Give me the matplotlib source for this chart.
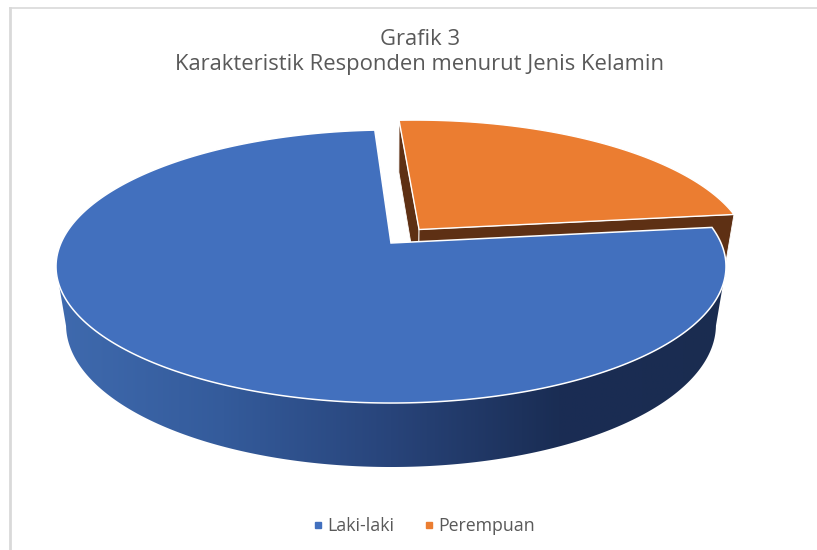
import numpy as np
import matplotlib
matplotlib.use('Agg')
import matplotlib.pyplot as plt
from matplotlib.colors import LinearSegmentedColormap
from matplotlib.lines import Line2D
from matplotlib.patches import Polygon

plt.rcParams['font.family'] = ['Open Sans', 'DejaVu Sans']

title = 'Grafik 3\nKarakteristik Responden menurut Jenis Kelamin'
categories = ['Laki-laki', 'Perempuan']
values = [76, 24]
colors = ['#4270BE', '#EB7D31']
side_color = '#5E3014'
side_stops = ['#3F6AAE', '#345B9B', '#28447A', '#1A2D54', '#1A2C50']

# pie geometry in pixels
cx, cy = 391, 243
rx, ry = 330, 132.5
persp = 0.172
depth = 59.7
depth_persp = 0.03
explode = 0.135
start = -3.3  # degrees clockwise from 12 o'clock, Perempuan starts here


def project(x, y, low=False):
    w = 1 + persp * y
    if low:
        w = w + depth_persp
        return cx + rx * x / w, cy + (depth - ry * y) / w
    return cx + rx * x / w, cy - ry * y / w


def wedge(a0, a1, shift=(0, 0)):
    t = np.radians(np.linspace(a0, a1, 300))
    x = np.r_[0, np.sin(t)] + shift[0]
    y = np.r_[0, np.cos(t)] + shift[1]
    return x, y


fig = plt.figure(figsize=(8.17, 5.5), dpi=100)
ax = fig.add_axes([0, 0, 1, 1])

sweep = 360 * np.array(values) / sum(values)
orange0, orange1 = start, start + sweep[1]
blue0, blue1 = orange1, orange1 + sweep[0]
mid = np.radians((orange0 + orange1) / 2)
shift = (explode * np.sin(mid), explode * np.cos(mid))

# Perempuan: the two cut faces, then the top
x, y = wedge(orange0, orange1, shift)
for i in [1, -1]:
    xs = [x[0], x[i]]
    ys = [y[0], y[i]]
    top = project(np.array(xs), np.array(ys))
    low = project(np.array(xs), np.array(ys), low=True)
    pts = np.c_[np.r_[top[0], low[0][::-1]], np.r_[top[1], low[1][::-1]]]
    ax.add_patch(Polygon(pts, fc=side_color, ec='white', lw=0.6, zorder=2))
sx, sy = project(x, y)
ax.add_patch(Polygon(np.c_[sx, sy], fc=colors[1], ec='white', lw=1, zorder=3))

# Laki-laki: shaded outer wall, then the top
t = np.radians(np.linspace(blue0, blue1, 600))
front = np.cos(t) < -persp
tx, ty = project(np.sin(t[front]), np.cos(t[front]))
bx, by = project(np.sin(t[front]), np.cos(t[front]), low=True)
wall = Polygon(np.c_[np.r_[tx, bx[::-1]], np.r_[ty, by[::-1]]], fc='none', ec='none',
               transform=ax.transData)
ax.add_patch(wall)
cmap = LinearSegmentedColormap.from_list('wall', side_stops)
im = ax.imshow(np.linspace(0, 1, 256).reshape(1, -1), cmap=cmap, aspect='auto',
               extent=(bx.min() - 10, bx.max() + 10, by.max() + 5, ty.min() - 5), zorder=4)
im.set_clip_path(wall)

x, y = wedge(blue0, blue1)
sx, sy = project(x, y)
ax.add_patch(Polygon(np.c_[sx, sy], fc=colors[0], ec='white', lw=1.1, zorder=5))

ax.set_xlim(0, 817)
ax.set_ylim(550, 0)
ax.axis('off')

# chart frame
ax.plot([10, 10], [550, 8], color='#D9D9D9', lw=2, zorder=1)
ax.plot([10, 817], [8, 8], color='#D9D9D9', lw=1.2, zorder=1)

ax.text(420, 52, title, ha='center', va='center', fontsize=15.8, color='#595959',
        linespacing=1.2)

handles = [Line2D([], [], ls='none', marker='s', ms=4.5, color=c) for c in colors]
ax.legend(handles, categories, loc='center', bbox_to_anchor=(423 / 817, 1 - 526 / 550),
          ncol=2, frameon=False, fontsize=12.8, labelcolor='#595959', handlelength=0.8,
          handletextpad=0.1, columnspacing=1.6)

fig.savefig('out.png', dpi=100)
